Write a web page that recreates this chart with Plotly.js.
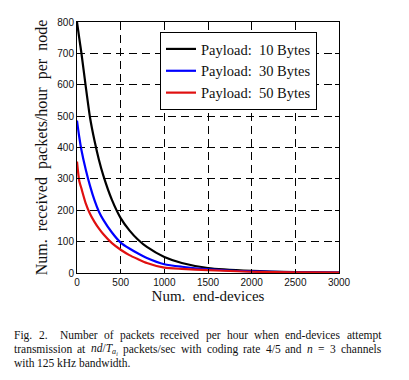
<!DOCTYPE html>
<html>
<head>
<meta charset="utf-8">
<script src="https://cdn.plot.ly/plotly-3.0.1.min.js"></script>
<style>html,body{margin:0;padding:0;background:#fff;}#chart{width:409px;height:380px;}</style>
</head>
<body>
<div id="chart"></div>
<script>
// Data
const endDevices = [0, 25, 50, 100, 150, 200, 250, 300, 400, 500, 600, 700, 800, 1000, 1200, 1500, 2000, 2500, 3000];
const payload10 = [800, 750, 702, 595, 494, 422, 362, 312, 233, 175, 136, 106, 83, 51, 32, 16, 7, 3, 1.5];
const payload30 = [486, 435, 393, 330, 277, 232, 196, 170, 129, 97, 78, 62, 48, 28, 20, 12, 5, 2, 1];
const payload50 = [355, 295, 270, 222, 188, 163, 142, 124, 95, 74, 57, 44, 32, 17, 13, 9, 4, 2, 1];
const seriesNames = ['Payload:  10 Bytes', 'Payload:  30 Bytes', 'Payload:  50 Bytes'];
const xTitle = 'Num.  end-devices';
const yTitle = 'Num.  received  packets/hour  per  node';
const captionLines = [
  ['Fig.', '2.', '', 'Number', 'of', 'packets', 'received', 'per', 'hour', 'when', 'end-devices', 'attempt'],
  ['transmission', 'at', '<i>nd</i>/<i>T</i><sub><i>a<sub>i</sub></i></sub>', 'packets/sec', 'with', 'coding', 'rate', '4/5', 'and', '<i>n</i>', '=', '3', 'channels'],
  ['with', '125', 'kHz', 'bandwidth.']
];

const L = 77, R = 70, T = 22, B = 107, W = 409, H = 380;
const pw = W - L - R, ph = H - T - B;
const px = x => (x - L) / pw;
const py = y => (H - B - y) / ph;

const serif = 'Liberation Serif, Times New Roman, serif';
const sans = 'Liberation Sans, Arial, sans-serif';
const colors = ['#000000', '#0000ff', '#e01010'];
const ys = [payload10, payload30, payload50];

const traces = ys.map((y, i) => ({
  x: endDevices, y: y, type: 'scatter', mode: 'lines', name: seriesNames[i],
  line: {color: colors[i], width: 2.2, shape: 'spline', smoothing: 0.6}
}));

const axisCommon = {
  showgrid: true, gridcolor: '#000', griddash: '8px,5px', gridwidth: 1,
  showline: true, linecolor: '#000', linewidth: 1, mirror: 'ticks',
  ticks: 'inside', ticklen: 4, tickcolor: '#000', zeroline: false,
  tickfont: {family: sans, size: 10, color: '#111'}
};

// Caption: justified text, words placed with measured widths
const capSize = 11.5;
const ctx = document.createElement('canvas').getContext('2d');
function wordWidth(w) {
  const base = w.replace(/<sub>.*<\/sub>/g, '').replace(/<[^>]+>/g, '');
  const sub = (w.match(/<sub>(.*)<\/sub>/) || ['', ''])[1].replace(/<[^>]+>/g, '');
  const italic = w.indexOf('<i>') >= 0;
  ctx.font = (italic ? 'italic ' : '') + capSize + 'px "Liberation Serif"';
  let width = ctx.measureText(base).width;
  ctx.font = (italic ? 'italic ' : '') + (capSize * 0.7) + 'px "Liberation Serif"';
  width += ctx.measureText(sub).width;
  return width;
}
const capLeft = 12, capRight = 379, capY = [335, 349, 363];
const caption = [];
captionLines.forEach((words, li) => {
  const ws = words.map(wordWidth);
  const total = ws.reduce((a, b) => a + b, 0);
  ctx.font = capSize + 'px "Liberation Serif"';
  const natural = ctx.measureText(' ').width;
  const gaps = words.length - 1;
  const gap = li < 2 ? (capRight - capLeft - total) / gaps : natural;
  let x = capLeft;
  words.forEach((w, wi) => {
    if (w !== '') {
      caption.push({
        text: w, xref: 'paper', yref: 'paper', x: px(x), y: py(capY[li]),
        xanchor: 'left', yanchor: 'middle', showarrow: false,
        font: {family: serif, size: capSize, color: '#111'}
      });
    }
    x += ws[wi] + gap;
  });
});

const layout = {
  width: W, height: H,
  margin: {l: L, r: R, t: T, b: B},
  paper_bgcolor: '#fff', plot_bgcolor: '#fff',
  showlegend: true,
  legend: {
    x: px(160), y: py(32), xanchor: 'left', yanchor: 'top',
    bgcolor: '#fff', bordercolor: '#000', borderwidth: 1,
    font: {family: serif, size: 14.5, color: '#111'}
  },
  xaxis: Object.assign({}, axisCommon, {
    range: [0, 3000], dtick: 500, tick0: 0,
    title: {text: xTitle, font: {family: serif, size: 15, color: '#111'}, standoff: 1}
  }),
  yaxis: Object.assign({}, axisCommon, {
    range: [0, 800], dtick: 100, tick0: 0,
    title: {text: yTitle, font: {family: serif, size: 16, color: '#111'}, standoff: 5}
  }),
  annotations: caption
};

Plotly.newPlot('chart', traces, layout, {displayModeBar: false, staticPlot: true});
</script>
</body>
</html>
